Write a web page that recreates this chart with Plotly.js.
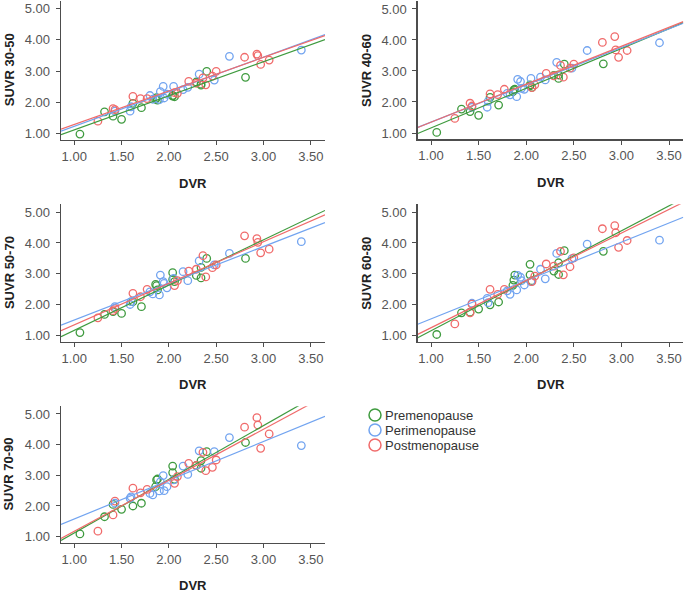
<!DOCTYPE html>
<html>
<head>
<meta charset="utf-8">
<script src="https://cdn.plot.ly/plotly-3.0.1.min.js"></script>
<style>
  html, body { margin: 0; padding: 0; background: #ffffff; }
  #chart { width: 685px; height: 592px; }
</style>
</head>
<body>
<div id="chart"></div>
<script>
// Menopause groups and their colours
const groups = ['Premenopause', 'Perimenopause', 'Postmenopause'];
const groupColors = ['#3f9b3f', '#72a4f0', '#f06b6b'];

// SUVR reference windows (one panel each)
const regions = ['30-50', '40-60', '50-70', '60-80', '70-90'];

// Axis ticks
const dvrTicks = [1.0, 1.5, 2.0, 2.5, 3.0, 3.5];
const suvrTicks = [1.0, 2.0, 3.0, 4.0, 5.0];

// DVR per subject, by group
const dvrPre = [1.06, 1.32, 1.41, 1.50, 1.62, 1.71, 1.86, 1.87, 1.88, 2.04, 2.04, 2.06, 2.29, 2.34, 2.34, 2.40, 2.81];
const dvrPeri = [1.43, 1.59, 1.60, 1.80, 1.83, 1.90, 1.91, 1.94, 1.95, 1.98, 2.05, 2.15, 2.20, 2.32, 2.48, 2.64, 3.40];
const dvrPost = [1.25, 1.41, 1.43, 1.62, 1.70, 1.77, 2.06, 2.09, 2.21, 2.29, 2.36, 2.39, 2.46, 2.50, 2.80, 2.93, 2.94, 2.97, 3.06];

// SUVR per subject, one row per window (30-50 ... 70-90)
const suvrPre = [
  [0.99, 1.70, 1.56, 1.46, 1.97, 1.83, 2.10, 2.15, 2.07, 2.22, 2.20, 2.18, 2.65, 2.55, 2.58, 2.99, 2.80],
  [1.02, 1.77, 1.69, 1.57, 2.15, 1.90, 2.33, 2.39, 2.41, 2.55, 2.52, 2.47, 2.86, 2.76, 2.87, 3.22, 3.23],
  [1.10, 1.69, 1.78, 1.72, 2.10, 1.94, 2.66, 2.62, 2.48, 3.04, 2.82, 2.75, 2.95, 3.21, 2.87, 3.50, 3.50],
  [1.04, 1.74, 1.76, 1.86, 2.00, 2.09, 2.63, 2.80, 2.96, 3.31, 2.97, 2.78, 3.09, 3.36, 2.98, 3.75, 3.73],
  [1.09, 1.65, 2.05, 1.89, 2.00, 2.09, 2.63, 2.85, 2.88, 3.30, 3.09, 2.87, 3.32, 3.48, 3.23, 3.77, 4.07]
];
const suvrPeri = [
  [1.72, 1.72, 1.86, 2.22, 2.10, 2.09, 2.34, 2.51, 2.14, 2.26, 2.51, 2.41, 2.48, 2.90, 2.71, 3.47, 3.67],
  [1.83, 1.83, 2.02, 2.28, 2.23, 2.17, 2.73, 2.66, 2.44, 2.41, 2.76, 2.80, 2.71, 3.28, 3.09, 3.66, 3.91],
  [1.94, 2.01, 2.10, 2.42, 2.35, 2.32, 2.96, 2.75, 2.69, 2.55, 2.85, 3.07, 2.78, 3.42, 3.29, 3.66, 4.04],
  [2.05, 2.21, 2.07, 2.45, 2.34, 2.48, 2.95, 2.89, 2.78, 2.64, 2.75, 3.15, 2.84, 3.66, 3.49, 3.96, 4.09],
  [2.09, 2.25, 2.30, 2.41, 2.36, 2.49, 2.79, 2.99, 2.50, 2.63, 2.85, 3.30, 3.03, 3.80, 3.77, 4.23, 3.97]
];
const suvrPost = [
  [1.40, 1.80, 1.77, 2.19, 2.12, 2.12, 2.31, 2.29, 2.67, 2.61, 2.78, 2.56, 2.84, 2.99, 3.44, 3.54, 3.49, 3.21, 3.35],
  [1.47, 1.96, 1.87, 2.26, 2.24, 2.41, 2.46, 2.55, 2.92, 2.84, 3.18, 2.80, 3.09, 3.22, 3.92, 4.11, 3.68, 3.44, 3.66],
  [1.58, 1.81, 1.88, 2.37, 2.26, 2.50, 2.62, 2.78, 3.09, 3.15, 3.59, 2.90, 3.20, 3.29, 4.23, 4.14, 4.02, 3.68, 3.80],
  [1.38, 1.74, 2.02, 2.50, 2.34, 2.50, 2.75, 2.93, 3.32, 3.25, 3.73, 2.97, 3.23, 3.52, 4.46, 4.56, 4.33, 3.86, 4.08],
  [1.18, 1.71, 2.16, 2.58, 2.43, 2.54, 2.74, 2.96, 3.39, 3.32, 3.75, 3.15, 3.26, 3.50, 4.57, 4.88, 4.64, 3.88, 4.35]
];

// ---- layout helpers ----
const W = 685, H = 592;
const X_RANGE = [0.86, 3.65];
const Y_RANGE = [0.8, 5.25];
const FONT = 'Liberation Sans, Arial, Helvetica, sans-serif';

// panel frames in pixels: [left, right, top, bottom]
const frames = [
  [61, 325, 0.5, 140],
  [417.7, 683.3, 1.2, 139.2],
  [61, 325, 204.3, 341.9],
  [417.7, 683.3, 204.3, 341.9],
  [61, 325, 406.3, 542.8]
];
const px = v => v / W;
const py = v => 1 - v / H;

// least-squares fit line
function fit(xs, ys) {
  const n = xs.length;
  const mx = xs.reduce((a, b) => a + b, 0) / n;
  const my = ys.reduce((a, b) => a + b, 0) / n;
  let sxy = 0, sxx = 0;
  for (let i = 0; i < n; i++) { sxy += (xs[i] - mx) * (ys[i] - my); sxx += (xs[i] - mx) ** 2; }
  const b = sxy / sxx;
  return { a: my - b * mx, b };
}

const dvrByGroup = [dvrPre, dvrPeri, dvrPost];
const suvrByGroup = [suvrPre, suvrPeri, suvrPost];

const traces = [];
const layout = {
  width: W, height: H,
  margin: { l: 0, r: 0, t: 0, b: 0 },
  paper_bgcolor: '#ffffff', plot_bgcolor: '#ffffff',
  showlegend: false,
  font: { family: FONT },
  annotations: [], shapes: []
};

regions.forEach((reg, p) => {
  const sfx = p === 0 ? '' : String(p + 1);
  const xa = 'x' + sfx, ya = 'y' + sfx;
  const [l, r, t, b] = frames[p];

  layout['xaxis' + sfx] = {
    domain: [px(l), px(r)], anchor: ya, range: X_RANGE,
    tickvals: dvrTicks, ticktext: dvrTicks.map(v => v.toFixed(2)),
    showline: true, linecolor: '#4d4d4d', linewidth: 1.4, mirror: false,
    ticks: 'outside', ticklen: 4, tickwidth: 1, tickcolor: '#4d4d4d',
    showgrid: false, zeroline: false,
    tickfont: { family: FONT, size: 13, color: '#555555' },
    fixedrange: true
  };
  layout['yaxis' + sfx] = {
    domain: [py(b), py(t)], anchor: xa, range: Y_RANGE,
    tickvals: suvrTicks, ticktext: suvrTicks.map(v => v.toFixed(2)),
    showline: true, linecolor: '#4d4d4d', linewidth: 1.4, mirror: false,
    ticks: 'outside', ticklen: 4, tickwidth: 1, tickcolor: '#4d4d4d',
    ticklabelstandoff: 3,
    showgrid: false, zeroline: false,
    tickfont: { family: FONT, size: 13, color: '#555555' },
    fixedrange: true
  };

  // axis titles
  layout.annotations.push({
    xref: 'paper', yref: 'paper', x: px((l + r) / 2), y: py(b + 43),
    xanchor: 'center', yanchor: 'middle', showarrow: false,
    text: '<b>DVR</b>', font: { family: FONT, size: 13, color: '#222222' }
  });
  layout.annotations.push({
    xref: 'paper', yref: 'paper', x: px(l - 52), y: py((t + b) / 2),
    xanchor: 'center', yanchor: 'middle', showarrow: false, textangle: -90,
    text: '<b>SUVR ' + reg + '</b>', font: { family: FONT, size: 13, color: '#222222' }
  });

  groups.forEach((g, gi) => {
    const xs = dvrByGroup[gi];
    const ys = suvrByGroup[gi][p];
    traces.push({
      type: 'scatter', mode: 'markers', name: g, xaxis: xa, yaxis: ya,
      x: xs, y: ys, cliponaxis: false,
      marker: { symbol: 'circle-open', size: 7.5, color: groupColors[gi], line: { width: 1.3, color: groupColors[gi] } },
      hoverinfo: 'x+y+name'
    });
  });
  groups.forEach((g, gi) => {
    const f = fit(dvrByGroup[gi], suvrByGroup[gi][p]);
    traces.push({
      type: 'scatter', mode: 'lines', name: g + ' fit', xaxis: xa, yaxis: ya,
      x: X_RANGE, y: X_RANGE.map(v => f.a + f.b * v),
      line: { color: groupColors[gi], width: 1.2 },
      hoverinfo: 'skip'
    });
  });
});

// group key
const keyX = 375, keyY0 = 415, keyStep = 15, keyR = 6;
groups.forEach((g, gi) => {
  const cy = keyY0 + gi * keyStep;
  layout.shapes.push({
    type: 'circle', xref: 'paper', yref: 'paper',
    x0: px(keyX - keyR), x1: px(keyX + keyR), y0: py(cy + keyR), y1: py(cy - keyR),
    line: { color: groupColors[gi], width: 1.5 }, fillcolor: 'rgba(0,0,0,0)'
  });
  layout.annotations.push({
    xref: 'paper', yref: 'paper', x: px(keyX + keyR + 1.5), y: py(cy),
    xanchor: 'left', yanchor: 'middle', showarrow: false,
    text: g, font: { family: FONT, size: 13, color: '#333333' }
  });
});

Plotly.newPlot('chart', traces, layout, { displayModeBar: false, staticPlot: true });
</script>
</body>
</html>
